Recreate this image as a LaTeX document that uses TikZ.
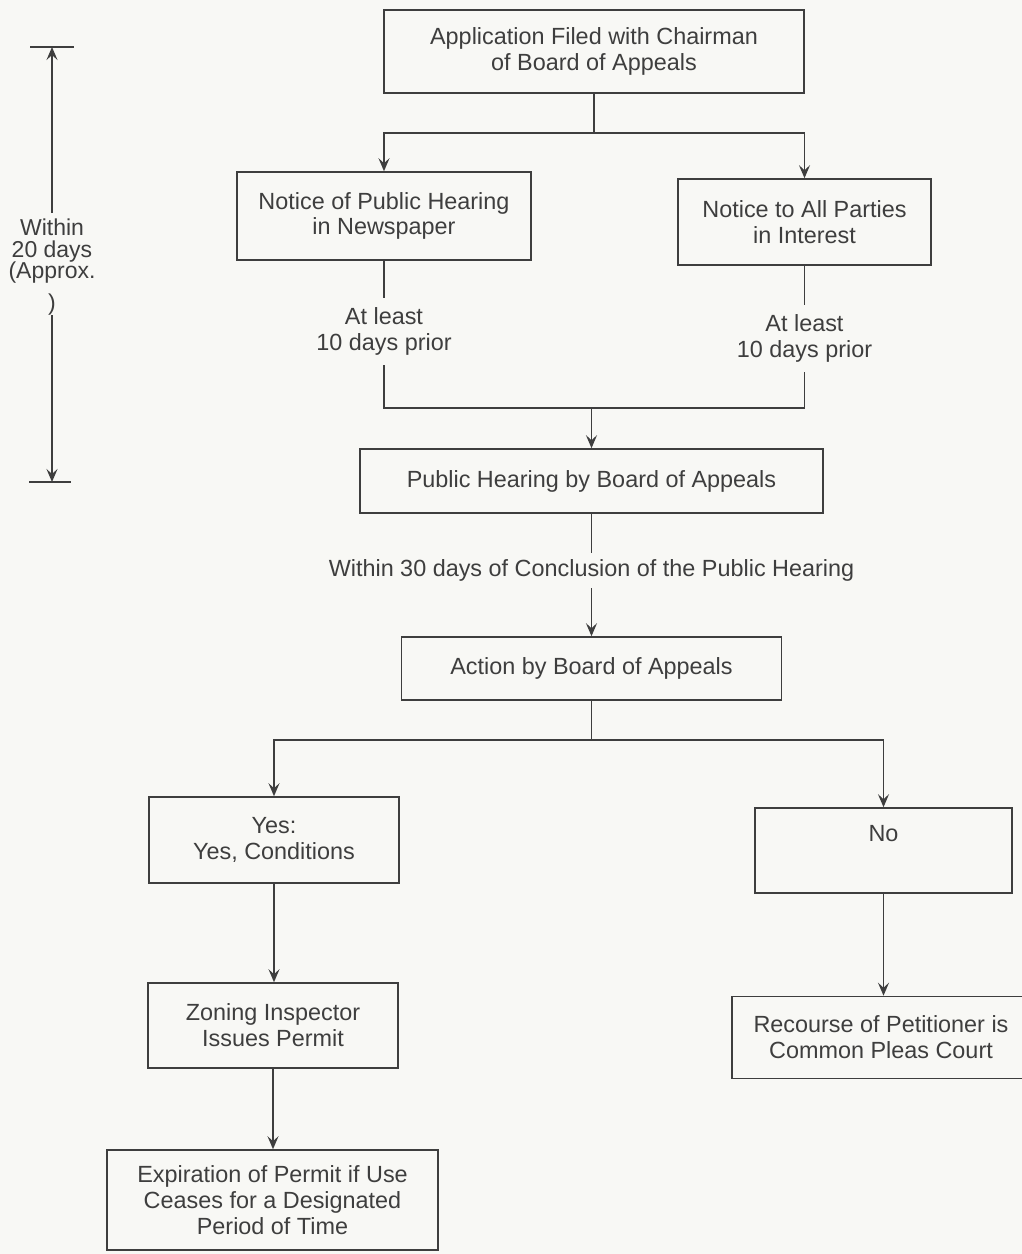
\documentclass[tikz,border=0pt]{standalone}
\usepackage{fontspec}
\setmainfont{Liberation Sans}
\usetikzlibrary{arrows.meta}
\definecolor{ink}{RGB}{62,62,62}
\definecolor{paper}{RGB}{248,248,245}
\begin{document}
\begin{tikzpicture}[x=1pt,y=-1pt,
  every node/.style={text=ink, font=\fontsize{23.4}{25.8}\selectfont},
  box/.style={draw=ink, line width=1.6pt, rectangle, inner sep=0pt, align=center},
  lbl/.style={inner sep=0pt, align=center},
  conn/.style={draw=ink, line width=1.4pt},
  arr/.style={conn, -{Stealth[length=13pt,width=11pt,inset=5pt]}}]
\fill[paper] (0,0) rectangle (1022,1254);
\useasboundingbox (0,0) rectangle (1022,1254);

% top level
\node[box, minimum width=420pt, minimum height=83pt] (app) at (594,51.5) {Application Filed with Chairman\\of Board of Appeals};
\node[box, minimum width=294pt, minimum height=88pt] (news) at (384,216) {Notice of Public Hearing\\in Newspaper};
\node[box, minimum width=253pt, minimum height=86pt] (parties) at (804.5,222) {Notice to All Parties\\in Interest};
\coordinate (j1) at (594,133);
\draw[conn] (app.south) -- (j1);
\draw[arr] (j1) -| (news.north);
\draw[arr] (j1) -| (parties.north);

% at least labels
\node[lbl, minimum height=67pt] (lblL) at (384,331.5) {At least\\10 days prior};
\node[lbl, minimum height=67pt] (lblR) at (804.5,338.5) {At least\\10 days prior};
\draw[conn] (news.south) -- (lblL.north);
\draw[conn] (parties.south) -- (lblR.north);
\coordinate (m) at (591.5,408);
\draw[conn] (lblL.south) |- (m) -| (lblR.south);

\node[box, minimum width=463pt, minimum height=64pt] (pub) at (591.5,481) {Public Hearing by Board of Appeals};
\draw[arr] (m) -- (pub.north);

\node[lbl, minimum height=35pt] (w30) at (591.5,570.5) {Within 30 days of Conclusion of the Public Hearing};
\draw[conn] (pub.south) -- (w30.north);
\node[box, minimum width=380pt, minimum height=63pt] (act) at (591.5,668.5) {Action by Board of Appeals};
\draw[arr] (w30.south) -- (act.north);

% decision
\coordinate (j3) at (591.5,740);
\draw[conn] (act.south) -- (j3);
\node[box, minimum width=250pt, minimum height=86pt] (yes) at (274,840) {Yes:\\Yes, Conditions};
\node[box, minimum width=257pt, minimum height=85pt] (no) at (883.5,850.5) {No\\[8pt]\mbox{}};
\draw[arr] (j3) -| (yes.north);
\draw[arr] (j3) -| (no.north);

\node[box, minimum width=250pt, minimum height=85pt] (zon) at (273,1025.5) {Zoning Inspector\\Issues Permit};
\draw[arr] (yes.south) -- (yes.south |- zon.north);
\node[box, minimum width=298pt, minimum height=82pt] (rec) at (881,1037.5) {Recourse of Petitioner is\\Common Pleas Court};
\draw[arr] (no.south) -- (no.south |- rec.north);
\node[box, minimum width=331pt, minimum height=100pt] (exp) at (272.5,1200) {Expiration of Permit if Use\\Ceases for a Designated\\Period of Time};
\draw[arr] (zon.south) -- (zon.south |- exp.north);

% dimension on the left
\coordinate (dt) at (52,47);
\coordinate (db) at (52,482);
\coordinate (gt) at (52,213);
\coordinate (gb) at (52,315);
\node[lbl, font=\fontsize{23}{21.5}\selectfont] (w20) at (52,267.5) {Within\\20 days\\(Approx.\\[10.5pt])};
\draw[arr] (gt) -- (dt);
\draw[arr] (gb) -- (db);
\draw[conn] ([xshift=-22pt]dt) -- ([xshift=22pt]dt);
\draw[conn] ([xshift=-23pt]db) -- ([xshift=19pt]db);
\end{tikzpicture}
\end{document}
